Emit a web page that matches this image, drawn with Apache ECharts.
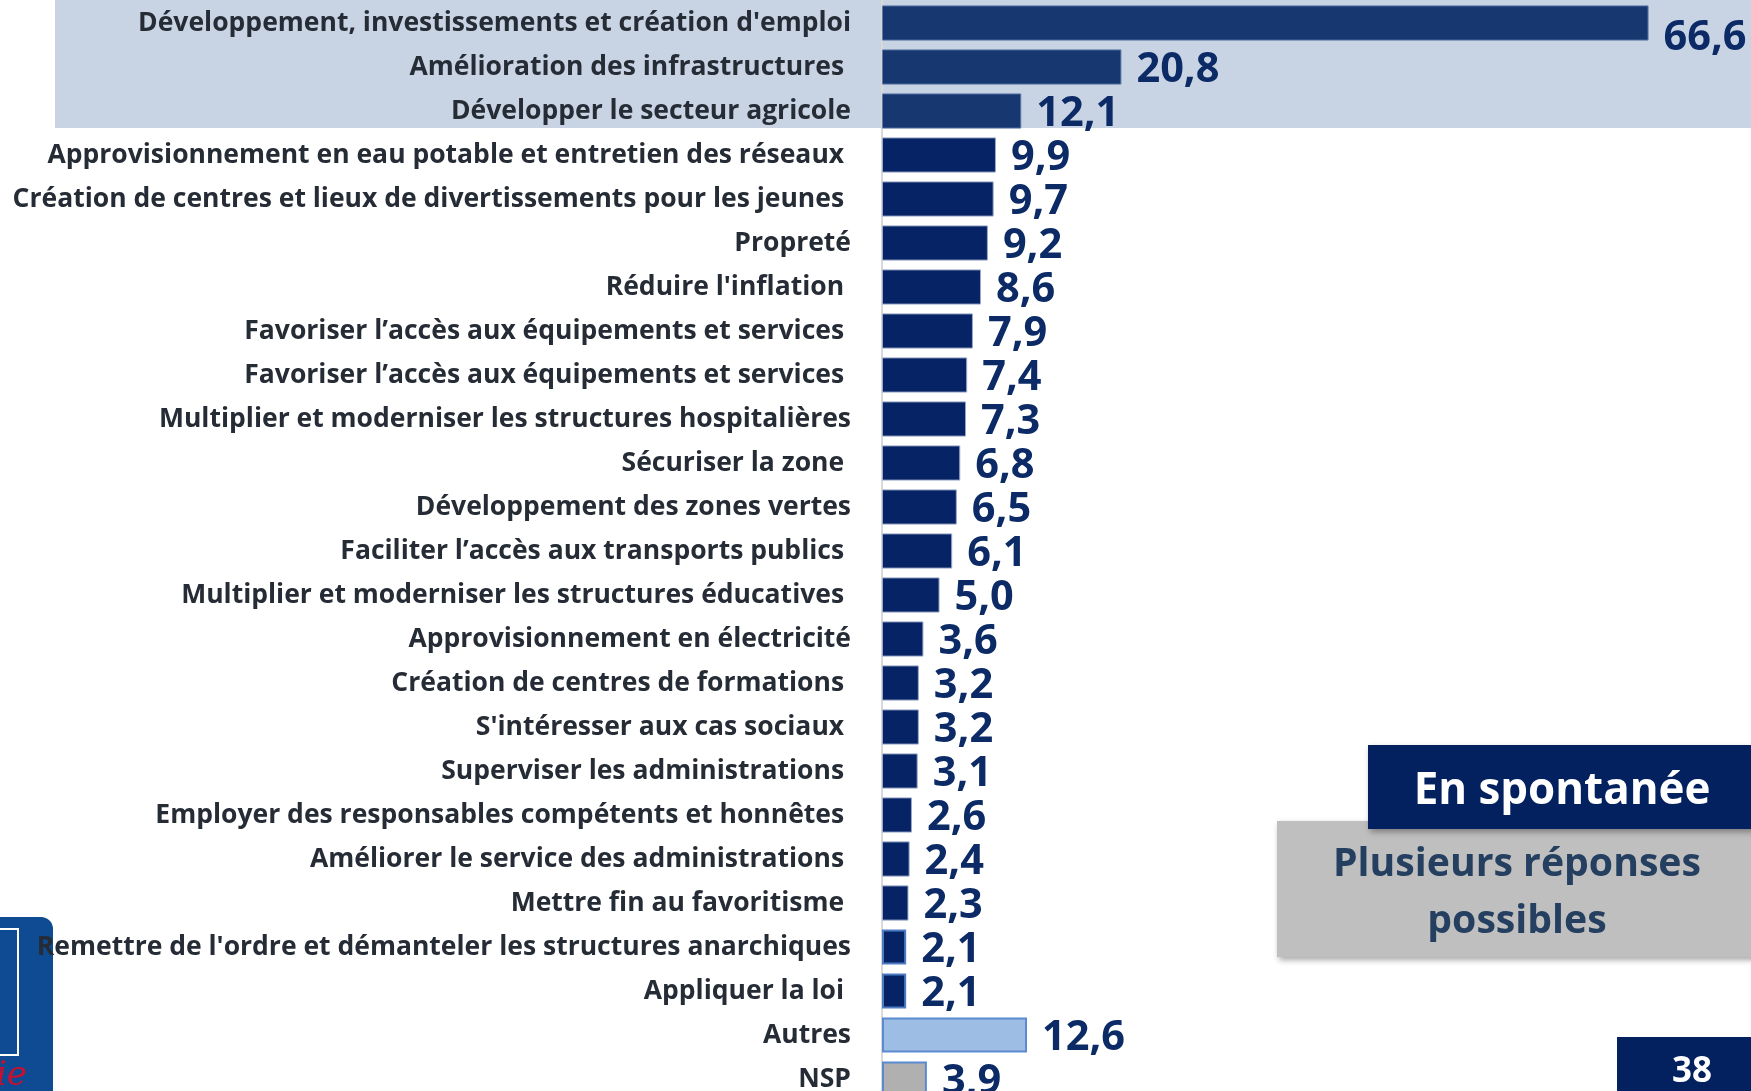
<!DOCTYPE html>
<html>
<head>
<meta charset="utf-8">
<title>En spontanée</title>
<script src="https://cdn.jsdelivr.net/npm/echarts@6/dist/echarts.min.js"></script>
<style>
html, body { margin: 0; padding: 0; background: #fff; }
#chartContainer { width: 1751px; height: 1091px; }
</style>
</head>
<body>
<div id="chartContainer"></div>
<script>
// categories (top to bottom)
var categories = [
    'Développement, investissements et création d\'emploi',
    'Amélioration des infrastructures ',
    'Développer le secteur agricole',
    'Approvisionnement en eau potable et entretien des réseaux ',
    'Création de centres et lieux de divertissements pour les jeunes ',
    'Propreté',
    'Réduire l\'inflation ',
    'Favoriser l’accès aux équipements et services ',
    'Favoriser l’accès aux équipements et services ',
    'Multiplier et moderniser les structures hospitalières',
    'Sécuriser la zone ',
    'Développement des zones vertes',
    'Faciliter l’accès aux transports publics ',
    'Multiplier et moderniser les structures éducatives ',
    'Approvisionnement en électricité',
    'Création de centres de formations ',
    'S\'intéresser aux cas sociaux ',
    'Superviser les administrations ',
    'Employer des responsables compétents et honnêtes ',
    'Améliorer le service des administrations ',
    'Mettre fin au favoritisme ',
    'Remettre de l\'ordre et démanteler les structures anarchiques',
    'Appliquer la loi ',
    'Autres',
    'NSP'
];

// %
var values = [66.6, 20.8, 12.1, 9.9, 9.7, 9.2, 8.6, 7.9, 7.4, 7.3, 6.8, 6.5, 6.1, 5.0,
    3.6, 3.2, 3.2, 3.1, 2.6, 2.4, 2.3, 2.1, 2.1, 12.6, 3.9];

var boxTitle = 'En spontanée';
var boxNote = ['Plusieurs réponses', 'possibles'];
var pageNumber = '38';

var topCount = 3;
var fontFamily = '"Open Sans", "Noto Sans", sans-serif';

// size a bold font so a text gets a given width
var measureCtx = document.createElement('canvas').getContext('2d');
function fitFontSize(text, width) {
    measureCtx.font = 'bold 100px ' + fontFamily;
    return Math.round(1000 * width / measureCtx.measureText(text).width) / 10;
}

var catFontSize = fitFontSize(categories[0], 713);
var valFontSize = fitFontSize('66,6', 83);

function barStyle(i) {
    var name = categories[i];
    if (name === 'Autres') {
        return { color: '#9dbde4', borderColor: '#5a8ad0', borderWidth: 2 };
    }
    if (name === 'NSP') {
        return { color: '#b0b0b0', borderColor: '#5a8ad0', borderWidth: 2 };
    }
    if (i < topCount) {
        return { color: '#16376f', borderColor: '#5f78a8', borderWidth: 1 };
    }
    if (i >= categories.length - 4) {
        return { color: '#062366', borderColor: '#4d7cc4', borderWidth: 2 };
    }
    return { color: '#062366', borderColor: '#9aa8c8', borderWidth: 1 };
}

var seriesData = values.map(function(v, i) {
    var item = { value: v, itemStyle: barStyle(i) };
    if (i === 0) {
        item.label = { offset: [0, 15] };
    }
    return item;
});

var myChart = echarts.init(document.getElementById('chartContainer'), null, { renderer: 'canvas' });

var option = {
    backgroundColor: '#ffffff',
    animation: false,
    // last row runs past the bottom edge
    grid: { left: 882, top: 1, right: 0, bottom: -10, containLabel: false, outerBoundsMode: 'none' },
    xAxis: {
        type: 'value',
        min: 0,
        max: 75.5,
        show: false,
        splitLine: { show: false }
    },
    yAxis: {
        type: 'category',
        inverse: true,
        data: categories,
        axisLine: { show: true, lineStyle: { color: '#d9d9d9', width: 2 } },
        axisTick: { show: false },
        axisLabel: {
            margin: 31,
            interval: 0,
            color: '#262c35',
            fontFamily: fontFamily,
            fontWeight: 'bold',
            fontSize: catFontSize,
            padding: [14, 0, 0, 0]
        }
    },
    series: [{
        type: 'bar',
        data: seriesData,
        barCategoryGap: '20%',
        label: {
            show: true,
            position: 'right',
            distance: 15,
            offset: [0, 3],
            color: '#0b2a66',
            fontFamily: fontFamily,
            fontWeight: 'bold',
            fontSize: valFontSize,
            formatter: function(p) {
                return p.value.toFixed(1).replace('.', ',');
            }
        }
    }],
    graphic: [
        // highlight behind the first rows
        {
            type: 'rect', z: -10, silent: true,
            shape: { x: 55, y: 0, width: 1700, height: 128 },
            style: { fill: '#c8d4e3' }
        },
        // logo at the bottom left, under the labels
        {
            type: 'rect', z: -5, silent: true,
            shape: { x: -20, y: 917, width: 73, height: 200, r: 12 },
            style: { fill: '#0e4b93' }
        },
        {
            type: 'rect', z: -5, silent: true,
            shape: { x: -10, y: 929, width: 28, height: 126 },
            style: { fill: 'none', stroke: '#ffffff', lineWidth: 2 }
        },
        {
            type: 'text', z: -5, silent: true,
            style: {
                x: -4, y: 1076, text: 'ie', fill: '#c8102e',
                font: 'italic 34px "DejaVu Serif", serif',
                align: 'left', textAlign: 'left',
                verticalAlign: 'middle', textVerticalAlign: 'middle'
            }
        },
        // boxes on the right
        {
            type: 'rect', z: 100, silent: true,
            shape: { x: 1277, y: 821, width: 480, height: 136 },
            style: { fill: '#bfbfbf', shadowBlur: 6, shadowColor: 'rgba(0,0,0,0.35)', shadowOffsetX: 2, shadowOffsetY: 3 }
        },
        {
            type: 'rect', z: 101, silent: true,
            shape: { x: 1368, y: 745, width: 390, height: 84 },
            style: { fill: '#03205f', shadowBlur: 6, shadowColor: 'rgba(0,0,0,0.35)', shadowOffsetX: 2, shadowOffsetY: 3 }
        },
        {
            type: 'text', z: 102, silent: true,
            style: {
                x: 1562, y: 791, text: boxTitle, fill: '#ffffff',
                font: 'bold ' + fitFontSize(boxTitle, 297) + 'px ' + fontFamily,
                align: 'center', textAlign: 'center',
                verticalAlign: 'middle', textVerticalAlign: 'middle'
            }
        },
        {
            type: 'text', z: 102, silent: true,
            style: {
                x: 1517, y: 865, text: boxNote[0], fill: '#243f60',
                font: 'bold ' + fitFontSize(boxNote[0], 368) + 'px ' + fontFamily,
                align: 'center', textAlign: 'center',
                verticalAlign: 'middle', textVerticalAlign: 'middle'
            }
        },
        {
            type: 'text', z: 102, silent: true,
            style: {
                x: 1517, y: 922, text: boxNote[1], fill: '#243f60',
                font: 'bold ' + fitFontSize(boxNote[0], 368) + 'px ' + fontFamily,
                align: 'center', textAlign: 'center',
                verticalAlign: 'middle', textVerticalAlign: 'middle'
            }
        },
        {
            type: 'rect', z: 100, silent: true,
            shape: { x: 1617, y: 1037, width: 140, height: 60 },
            style: { fill: '#03205f' }
        },
        {
            type: 'text', z: 102, silent: true,
            style: {
                x: 1692, y: 1072, text: pageNumber, fill: '#ffffff',
                font: 'bold ' + fitFontSize(pageNumber, 40) + 'px ' + fontFamily,
                align: 'center', textAlign: 'center',
                verticalAlign: 'middle', textVerticalAlign: 'middle'
            }
        }
    ]
};

myChart.setOption(option);
</script>
</body>
</html>
